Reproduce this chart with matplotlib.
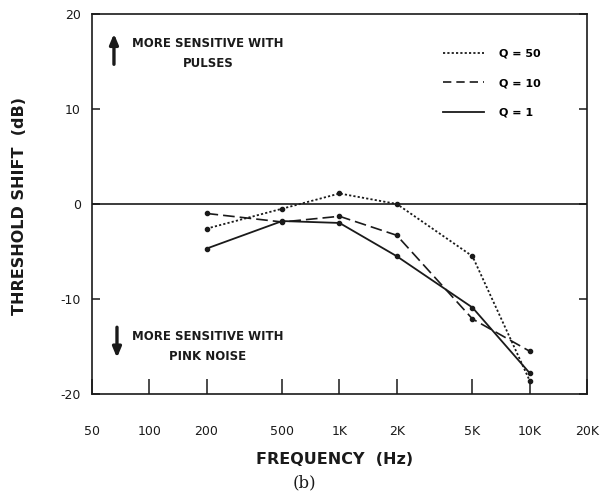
import numpy as np
import matplotlib
matplotlib.use("Agg")
import matplotlib.pyplot as plt
from matplotlib.lines import Line2D

# threshold shift (dB) vs frequency
freqs = [200, 500, 1000, 2000, 5000, 10000]
shift_q50 = [-2.6, -0.5, 1.1, 0.0, -5.5, -18.6]
shift_q10 = [-1.0, -1.9, -1.3, -3.3, -12.1, -15.5]
shift_q1 = [-4.7, -1.8, -2.0, -5.5, -10.9, -17.8]

xticks = [50, 100, 200, 500, 1000, 2000, 5000, 10000, 20000]
xlabels = ["50", "100", "200", "500", "1K", "2K", "5K", "10K", "20K"]
yticks = [-20, -10, 0, 10, 20]
ylabels = ["-20", "-10", "0", "10", "20"]

ink = "#1a1a1a"
plt.rcParams['font.family'] = ['DejaVu Sans']

fig = plt.figure(figsize=(6, 4.95), dpi=100)
ax = fig.add_axes([0.1533, 0.204, 0.825, 0.768])

ax.plot(freqs, shift_q50, color=ink, lw=1.3, ls=(0, (1.2, 1.2)),
        marker='o', ms=3, label="Q = 50")
ax.plot(freqs, shift_q10, color=ink, lw=1.2, ls=(0, (7, 3)),
        marker='o', ms=3, label="Q = 10")
ax.plot(freqs, shift_q1, color=ink, lw=1.3, ls='-',
        marker='o', ms=3, label="Q = 1")
ax.axhline(0, color=ink, lw=1.2)

ax.set_xscale('log')
ax.set_xlim(50, 20000)
ax.set_ylim(-20, 20)
ax.set_xticks(xticks)
ax.set_xticklabels(xlabels)
ax.minorticks_off()
ax.set_yticks(yticks)
ax.set_yticklabels(ylabels)
ax.tick_params(axis='x', direction='in', length=11, width=1.1, pad=22,
               labelsize=9, colors=ink)
ax.tick_params(axis='y', direction='in', length=6, width=1.1, pad=8,
               labelsize=9, colors=ink, right=True)
for s in ax.spines.values():
    s.set_linewidth(1.2)
    s.set_color(ink)

# legend (no markers, like the original key)
handles = [Line2D([], [], color=ink, lw=1.3, ls=(0, (1.2, 1.2))),
           Line2D([], [], color=ink, lw=1.2, ls=(0, (5, 3))),
           Line2D([], [], color=ink, lw=1.3, ls='-')]
ax.legend(handles, ["Q = 50", "Q = 10", "Q = 1"], loc='upper left',
          bbox_to_anchor=(0.688, 0.935), frameon=False, handlelength=3.7,
          handletextpad=1.4, labelspacing=1.75,
          prop={'size': 8, 'weight': 'bold'})

# direction notes
ax.annotate("", xy=(0.0444, 0.955), xytext=(0.0444, 0.86),
            xycoords='axes fraction',
            arrowprops=dict(arrowstyle='-|>,head_length=0.6,head_width=0.25',
                            color=ink, lw=2.4))
ax.text(0.234, 0.897, "MORE SENSITIVE WITH\nPULSES", transform=ax.transAxes,
        ha='center', va='center', multialignment='center', fontsize=8.5,
        fontweight='bold', linespacing=1.7, color=ink)
ax.annotate("", xy=(0.0505, 0.088), xytext=(0.0505, 0.183),
            xycoords='axes fraction',
            arrowprops=dict(arrowstyle='-|>,head_length=0.6,head_width=0.25',
                            color=ink, lw=2.4))
ax.text(0.234, 0.124, "MORE SENSITIVE WITH\nPINK NOISE", transform=ax.transAxes,
        ha='center', va='center', multialignment='center', fontsize=8.5,
        fontweight='bold', linespacing=1.7, color=ink)

fig.text(0.033, 0.584, "THRESHOLD SHIFT  (dB)", rotation=90, ha='center',
         va='center', fontsize=11.5, fontweight='bold', color=ink)
fig.text(0.558, 0.071, "FREQUENCY  (Hz)", ha='center', va='center',
         fontsize=11.5, fontweight='bold', color=ink)
fig.text(0.507, 0.024, "(b)", ha='center', va='center', fontsize=12,
         family='DejaVu Serif', color=ink)

fig.savefig("out.png", dpi=100)
